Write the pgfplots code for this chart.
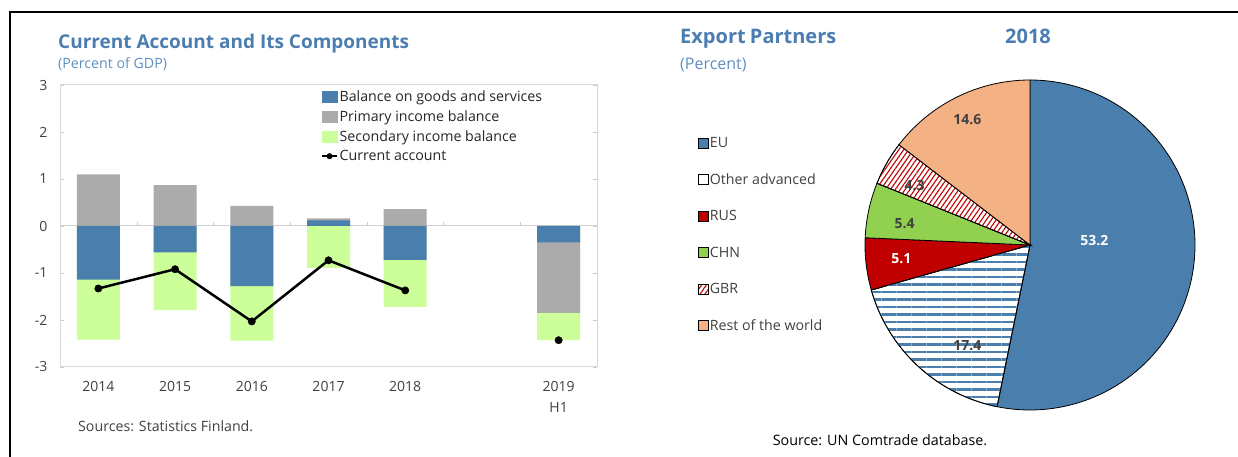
\documentclass[border=0pt]{standalone}
\usepackage{pgfplots}
\pgfplotsset{compat=1.18}
\usetikzlibrary{patterns.meta}
\usepackage{fontspec}
\setmainfont{Open Sans}

\definecolor{imfblue}{HTML}{4A7EAD}
\definecolor{titleblue}{HTML}{4B7DB0}
\definecolor{subblue}{HTML}{5F8FC2}
\definecolor{barblue}{HTML}{4A7EAD}
\definecolor{bargray}{HTML}{ABABAB}
\definecolor{bargreen}{HTML}{CCFF99}
\definecolor{rusred}{HTML}{C00000}
\definecolor{chngreen}{HTML}{92D050}
\definecolor{restorange}{HTML}{F4B183}
\definecolor{txt}{HTML}{404040}

\pgfplotsset{
  boxlegend/.style={legend image code/.code={\draw[##1] (0bp,-5bp) rectangle (10bp,5bp);}},
  barlegend/.style={legend image code/.code={\fill[##1] (0bp,-5.5bp) rectangle (15bp,6bp);}},
  dotlegend/.style={legend image code/.code={\draw[mark repeat=2, mark phase=2, ##1] plot coordinates {(0bp,0bp) (7.5bp,0bp) (15bp,0bp)};}},
}

\begin{document}
\begin{tikzpicture}
\path[use as bounding box] (0bp,0bp) rectangle (1238bp,457bp);
% frame
\draw[black, line width=2bp] (10bp,0bp) -- (10bp,445bp) -- (1238bp,445bp);

% ---------- left panel: current account ----------
\node[anchor=base west, inner sep=0pt, text=titleblue, font=\fontsize{19bp}{22bp}\selectfont\bfseries] at (58bp,408bp) {Current Account and Its Components};
\node[anchor=base west, inner sep=0pt, text=subblue, font=\fontsize{14.2bp}{17bp}\selectfont] at (58bp,388bp) {(Percent of GDP)};
\node[anchor=base west, inner sep=0pt, text=txt, font=\fontsize{14.2bp}{17bp}\selectfont] at (78bp,26bp) {Sources: Statistics Finland.};

\begin{axis}[
  at={(60bp,90bp)}, anchor=south west,
  scale only axis, width=537bp, height=282bp,
  xmin=-0.5, xmax=6.5, ymin=-3, ymax=3,
  ytick={-3,...,3}, yticklabels={-3,-2,-1,0,1,2,3},
  xtick={0,1,2,3,4,6},
  xticklabels={2014,2015,2016,2017,2018,{2019\\H1}},
  xticklabel style={align=center, text=txt, font=\fontsize{14bp}{21bp}\selectfont, yshift=-11bp},
  yticklabel style={text=txt, font=\fontsize{14bp}{16bp}\selectfont, xshift=-9bp},
  axis line style={draw=gray!30, line width=1bp},
  tick align=inside, major tick length=4bp,
  ytick style={draw=gray!40},
  xtick style={draw=none},
  extra y ticks={0}, extra y tick labels={},
  extra y tick style={grid=major, major grid style={draw=gray!35, line width=1bp}},
  legend cell align=left,
  legend style={at={(0.48,0.99)}, anchor=north west, draw=none, fill=none,
    font=\fontsize{14.2bp}{17bp}\selectfont, text=black!85,
    row sep=5.5bp, nodes={inner xsep=1.5bp, inner ysep=1bp}},
]
\addlegendimage{barblue, barlegend}
\addlegendentry{Balance on goods and services}
\addlegendimage{bargray, barlegend}
\addlegendentry{Primary income balance}
\addlegendimage{bargreen, barlegend}
\addlegendentry{Secondary income balance}
\addlegendimage{black, line width=2.2bp, mark=*, mark size=2.8bp, mark options={line width=0.4bp}, dotlegend}
\addlegendentry{Current account}

% stacked segments drawn back to front (outer ends of each segment)
\addplot[ybar, bar width=43bp, bar shift=0pt, fill=bargreen, draw=none, forget plot]
  coordinates {(0,-2.42) (1,-1.79) (2,-2.44) (3,-0.89) (4,-1.72) (6,-2.43)};
\addplot[ybar, bar width=43bp, bar shift=0pt, fill=bargray, draw=none, forget plot]
  coordinates {(0,1.10) (1,0.87) (2,0.43) (3,0.16) (4,0.36) (6,-1.85)};
\addplot[ybar, bar width=43bp, bar shift=0pt, fill=barblue, draw=none, forget plot]
  coordinates {(0,-1.14) (1,-0.56) (2,-1.28) (3,0.12) (4,-0.72) (6,-0.35)};

\addplot[black, line width=2.5bp, mark=*, mark size=3.7bp, mark options={line width=0.4bp}, forget plot]
  coordinates {(0,-1.33) (1,-0.92) (2,-2.03) (3,-0.73) (4,-1.37)};
\addplot[only marks, black, mark=*, mark size=3.7bp, mark options={line width=0.4bp}, forget plot]
  coordinates {(6,-2.43)};

\draw[gray!40] (axis cs:0.5,0) -- ++(0pt,4bp);
\draw[gray!40] (axis cs:1.5,0) -- ++(0pt,4bp);
\draw[gray!40] (axis cs:2.5,0) -- ++(0pt,4bp);
\draw[gray!40] (axis cs:3.5,0) -- ++(0pt,4bp);
\draw[gray!40] (axis cs:4.5,0) -- ++(0pt,4bp);
\draw[gray!40] (axis cs:5.5,0) -- ++(0pt,4bp);
\end{axis}

% ---------- right panel: export partners ----------
\node[anchor=base west, inner sep=0pt, text=titleblue, font=\fontsize{20bp}{22bp}\selectfont\bfseries] at (680bp,413bp) {Export\kern-1bp\ Partners};
\node[anchor=base, inner sep=0pt, text=titleblue, font=\fontsize{20bp}{22bp}\selectfont\bfseries] at (1028bp,413bp) {2018};
\node[anchor=base west, inner sep=0pt, text=subblue, font=\fontsize{16bp}{19bp}\selectfont] at (680bp,387bp) {(Percent)};
\node[anchor=base, inner sep=0pt, text=black, font=\fontsize{14.3bp}{17bp}\selectfont] at (880bp,12bp) {Source: UN Comtrade database.};

\begin{axis}[
  at={(1030bp,212bp)}, anchor=center,
  scale only axis, width=330bp, height=330bp,
  xmin=-1, xmax=1, ymin=-1, ymax=1,
  hide axis, clip=false,
  legend cell align=left,
  legend style={at={(-0.517,0.833)}, anchor=north west, draw=none, fill=none,
    font=\fontsize{14.2bp}{17bp}\selectfont, text=txt,
    row sep=24.6bp, nodes={inner xsep=1.5bp, inner ysep=0bp}},
  boxlegend,
]
% shares: EU 53.2, Other advanced 17.4, RUS 5.1, CHN 5.4, GBR 4.3, Rest 14.6
% clockwise from 12 o'clock, 3.6 degrees per percent
\addplot[fill=imfblue, draw=black, line width=0.8bp, domain=90:-101.52, samples=120, variable=\t]
  ({cos(\t)}, {sin(\t)}) -- (axis cs:0,0) -- cycle;
\addlegendentry{EU}
\addplot[fill=white, draw=black, line width=0.8bp, domain=-101.52:-164.16, samples=60, variable=\t]
  ({cos(\t)}, {sin(\t)}) -- (axis cs:0,0) -- cycle;
\addlegendentry{Other advanced}
\addplot[fill=rusred, draw=black, line width=0.8bp, domain=-164.16:-182.52, samples=20, variable=\t]
  ({cos(\t)}, {sin(\t)}) -- (axis cs:0,0) -- cycle;
\addlegendentry{RUS}
\addplot[fill=chngreen, draw=black, line width=0.8bp, domain=-182.52:-201.96, samples=20, variable=\t]
  ({cos(\t)}, {sin(\t)}) -- (axis cs:0,0) -- cycle;
\addlegendentry{CHN}
\addplot[fill=white, postaction={pattern={Lines[angle=55, distance=4bp, line width=1.1bp]}, pattern color=rusred},
  draw=black, line width=0.8bp, domain=-201.96:-217.44, samples=20, variable=\t]
  ({cos(\t)}, {sin(\t)}) -- (axis cs:0,0) -- cycle;
\addlegendentry{GBR}
\addplot[fill=restorange, draw=black, line width=0.8bp, domain=-217.44:-270, samples=50, variable=\t]
  ({cos(\t)}, {sin(\t)}) -- (axis cs:0,0) -- cycle;
\addlegendentry{Rest of the world}
% stripes of the "Other advanced" slice
\addplot[draw=black, line width=0.8bp, pattern={Lines[angle=0, distance=7.5bp, line width=2.4bp]}, pattern color=imfblue,
  domain=-101.52:-164.16, samples=60, variable=\t, forget plot]
  ({cos(\t)}, {sin(\t)}) -- (axis cs:0,0) -- cycle;

% slice labels
\addplot[only marks, mark=none, forget plot, nodes near coords, point meta=explicit symbolic,
  every node near coord/.append style={anchor=center, text=white, font=\fontsize{14bp}{16bp}\selectfont\bfseries}]
  table[meta=lab] {
x y lab
0.39 0.03 53.2
-0.78 -0.08 5.1
};
\addplot[only marks, mark=none, forget plot, nodes near coords, point meta=explicit symbolic,
  every node near coord/.append style={anchor=center, text=txt, font=\fontsize{14bp}{16bp}\selectfont\bfseries}]
  table[meta=lab] {
x y lab
-0.38 -0.61 17.4
-0.76 0.13 5.4
-0.70 0.36 4.3
-0.38 0.76 14.6
};
\end{axis}
\end{tikzpicture}
\end{document}
